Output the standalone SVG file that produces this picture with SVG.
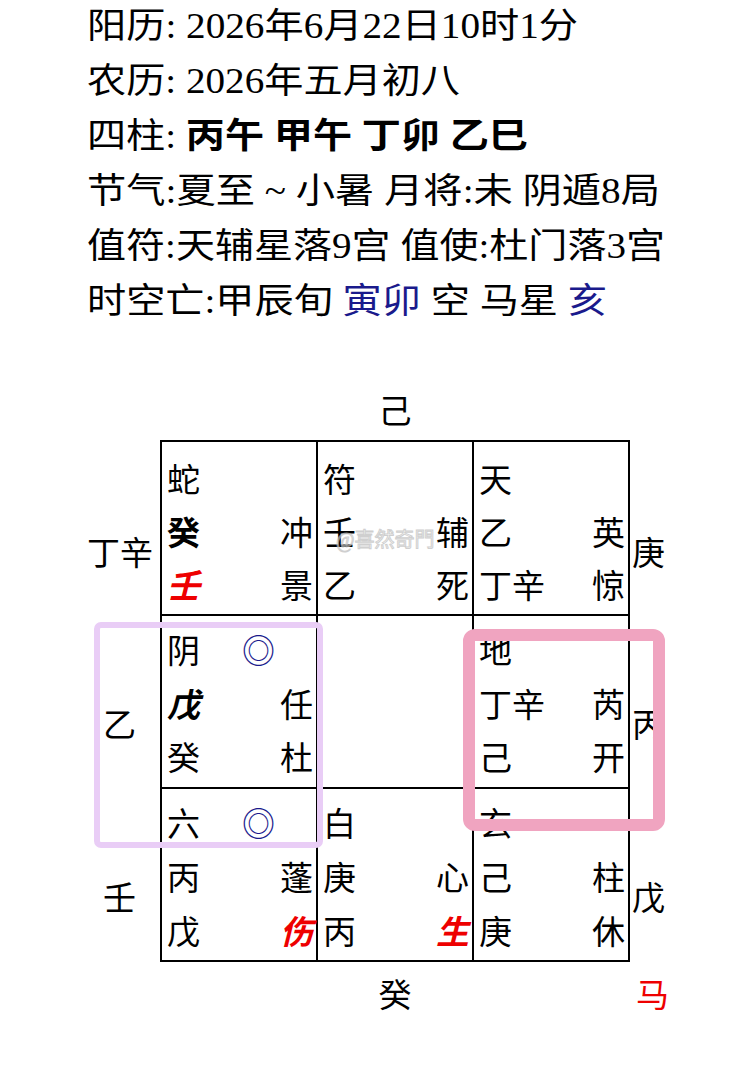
<svg xmlns="http://www.w3.org/2000/svg" width="754" height="1080" viewBox="0 0 754 1080">
<style>
text{font-family:"Liberation Serif","Noto Sans CJK SC",serif;fill:#000}
.h{font-size:35px}
.g{font-size:33px}
.r{text-anchor:end}
.red{fill:#e00}
.blue{fill:#1a1a8c}
.b{font-weight:bold}
.i{font-style:italic;font-weight:bold}
.m{text-anchor:middle}
</style>
<rect width="754" height="1080" fill="#fff"/>
<g id="header" class="h">
<text x="87" y="38" textLength="491" lengthAdjust="spacingAndGlyphs">阳历: 2026年6月22日10时1分</text>
<text x="87" y="93" textLength="373" lengthAdjust="spacingAndGlyphs">农历: 2026年五月初八</text>
<text x="87" y="148" textLength="441" lengthAdjust="spacingAndGlyphs">四柱: <tspan class="b">丙午 甲午 丁卯 乙巳</tspan></text>
<text x="87" y="203" textLength="573" lengthAdjust="spacingAndGlyphs">节气:夏至 ~ 小暑 月将:未 阴遁8局</text>
<text x="87" y="258" textLength="578" lengthAdjust="spacingAndGlyphs">值符:天辅星落9宫 值使:杜门落3宫</text>
<text x="87" y="313" textLength="520" lengthAdjust="spacingAndGlyphs">时空亡:甲辰旬 <tspan class="blue">寅卯</tspan> 空 马星 <tspan class="blue">亥</tspan></text>
</g>
<g id="connectors" fill="none" stroke="#000" stroke-width="2">
<rect x="161" y="441" width="468" height="520"/>
<line x1="317" y1="441" x2="317" y2="961"/>
<line x1="473" y1="441" x2="473" y2="961"/>
<line x1="161" y1="615" x2="629" y2="615"/>
<line x1="161" y1="788" x2="629" y2="788"/>
</g>
<g id="outer" class="g">
<text x="395" y="423" class="m">己</text>
<text x="87" y="565">丁辛</text>
<text x="632" y="565">庚</text>
<text x="103" y="737">乙</text>
<text x="632" y="737">丙</text>
<text x="103" y="910">壬</text>
<text x="632" y="910">戊</text>
<text x="395" y="1007" class="m">癸</text>
<text x="636" y="1007" class="red">马</text>
</g>
<g id="c1" class="g">
<text x="167" y="492">蛇</text>
<text x="167" y="545" class="b">癸</text><text x="313" y="545" class="r">冲</text>
<text x="167" y="598" class="i red">壬</text><text x="313" y="598" class="r">景</text>
</g>
<g id="c2" class="g">
<text x="323" y="492">符</text>
<text x="323" y="545">壬</text><text x="469" y="545" class="r">辅</text>
<text x="323" y="598">乙</text><text x="469" y="598" class="r">死</text>
</g>
<g id="c3" class="g">
<text x="479" y="492">天</text>
<text x="479" y="545">乙</text><text x="625" y="545" class="r">英</text>
<text x="479" y="598">丁辛</text><text x="625" y="598" class="r">惊</text>
</g>
<g id="c4" class="g">
<text x="167" y="663">阴</text><text x="242" y="663" class="blue">◎</text>
<text x="167" y="717" class="i">戊</text><text x="313" y="717" class="r">任</text>
<text x="167" y="770">癸</text><text x="313" y="770" class="r">杜</text>
</g>
<g id="c6" class="g">
<text x="479" y="663">地</text>
<text x="479" y="717">丁辛</text><text x="625" y="717" class="r">芮</text>
<text x="479" y="770">己</text><text x="625" y="770" class="r">开</text>
</g>
<g id="c7" class="g">
<text x="167" y="836">六</text><text x="242" y="836" class="blue">◎</text>
<text x="167" y="890">丙</text><text x="313" y="890" class="r">蓬</text>
<text x="167" y="944">戊</text><text x="313" y="944" class="r i red">伤</text>
</g>
<g id="c8" class="g">
<text x="323" y="836">白</text>
<text x="323" y="890">庚</text><text x="469" y="890" class="r">心</text>
<text x="323" y="944">丙</text><text x="469" y="944" class="r i red">生</text>
</g>
<g id="c9" class="g">
<text x="479" y="836">玄</text>
<text x="479" y="890">己</text><text x="625" y="890" class="r">柱</text>
<text x="479" y="944">庚</text><text x="625" y="944" class="r">休</text>
</g>
<text x="336" y="547" style="font-size:20px;fill:#fff;stroke:#bbb;stroke-width:1;opacity:0.7">@喜然奇門</text>
<g id="highlights" fill="none">
<rect x="97" y="625" width="223" height="220" rx="4" stroke="#e9cdf6" stroke-width="6"/>
<rect x="469" y="635" width="190" height="190" rx="6" stroke="#f0a4c0" stroke-width="12"/>
</g>
</svg>
